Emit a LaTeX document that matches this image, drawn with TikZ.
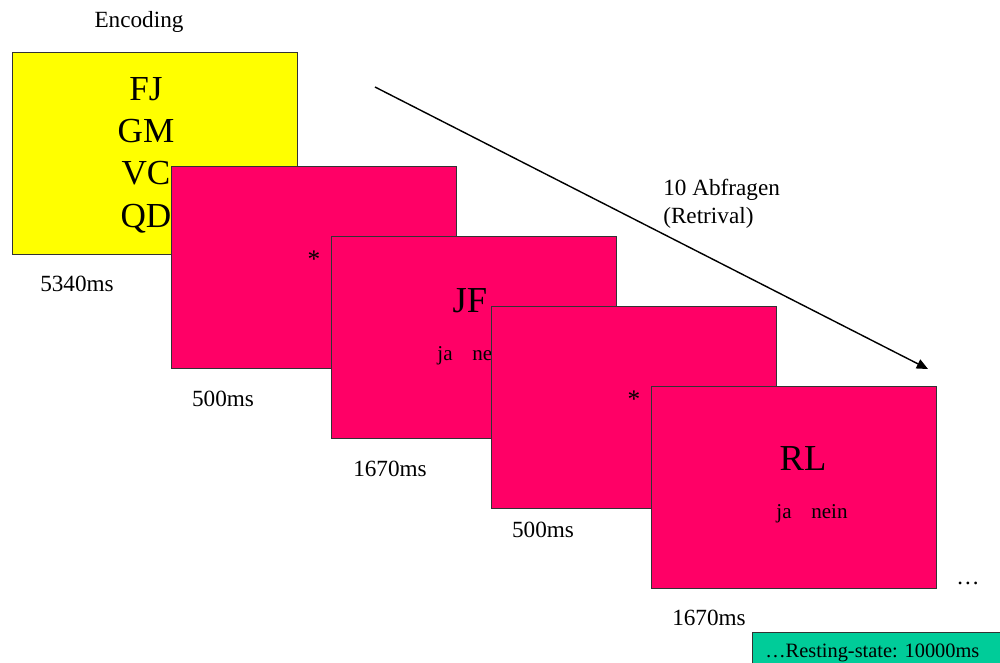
\documentclass[tikz,border=0pt]{standalone}
\usepackage{fontspec}
\setmainfont{Liberation Serif}
\usetikzlibrary{arrows.meta,positioning}
\definecolor{gelb}{RGB}{255,255,0}
\definecolor{rosa}{RGB}{255,0,102}
\definecolor{gruen}{RGB}{0,204,153}

\begin{document}
\begin{tikzpicture}[x=0.025cm,y=-0.025cm,
	folie/.style={draw=black!80, line width=0.6pt, minimum width=7.125cm, minimum height=5.05cm, anchor=north west, inner sep=0pt},
	zeit/.style={font=\fontsize{16.5}{20}\selectfont, anchor=base, inner sep=0pt},
	gross/.style={font=\fontsize{26}{30}\selectfont, anchor=base, inner sep=0pt},
	liste/.style={font=\fontsize{25}{30}\selectfont, anchor=base, inner sep=0pt},
	klein/.style={font=\fontsize{15}{18}\selectfont, anchor=base, inner sep=0pt},
	stern/.style={font=\fontsize{18}{20}\selectfont, inner sep=0pt}]
	\useasboundingbox (0,0) rectangle (1000,663);

	\node[zeit] (encoding) at (139,28) {Encoding};
	\node[folie, fill=gelb] (lernen) at (12,52) {};
	\foreach \wort/\y in {FJ/101,GM/143,VC/185,QD/227}
		\node[liste] (\wort) at (146,\y) {\wort};
	\node[zeit] (t1) at (77,291) {5340ms};

	\node[folie, fill=rosa] (fix1) at (171,166) {};
	\node[stern] (s1) at (314,259) {*};
	\node[zeit] (t2) at (223,406) {500ms};

	\node[folie, fill=rosa] (abfrage1) at (331,236) {};
	\node[gross] (jf) at (470,312) {JF};
	\node[klein] (antwort1) at (473,360) {ja\hspace{14pt}nein};
	\node[zeit] (t3) at (390,476) {1670ms};

	\node[folie, fill=rosa] (fix2) at (491,306) {};
	\node[stern] (s2) at (634,399) {*};
	\node[zeit] (t4) at (543,537) {500ms};

	\node[folie, fill=rosa] (abfrage2) at (651,386) {};
	\node[gross] (rl) at (803,470) {RL};
	\node[klein] (antwort2) at (812,518) {ja\hspace{14pt}nein};
	\node[zeit] (t5) at (709,625) {1670ms};
	\node[zeit] (punkte) at (968,584) {…};

	% Abfragen
	\coordinate (pfeilA) at (375,87);
	\coordinate (pfeilB) at (928,369);
	\draw[-{Triangle[length=8pt,width=7pt]}, line width=1pt] (pfeilA) -- (pfeilB);
	\node[font=\fontsize{16.5}{20}\selectfont, align=left, anchor=north west, inner sep=0pt] (abfragen) at (663,179) {10 Abfragen\\(Retrival)};

	\node[draw=black!80, line width=0.6pt, fill=gruen, anchor=north west, minimum width=6.25cm, minimum height=0.85cm, inner sep=0pt] (ruhe) at (752,632) {};
	\node[font=\fontsize{14.5}{18}\selectfont, anchor=base west, inner sep=0pt] (ruhetext) at (765,657) {…Resting-state: 10000ms};
\end{tikzpicture}
\end{document}
